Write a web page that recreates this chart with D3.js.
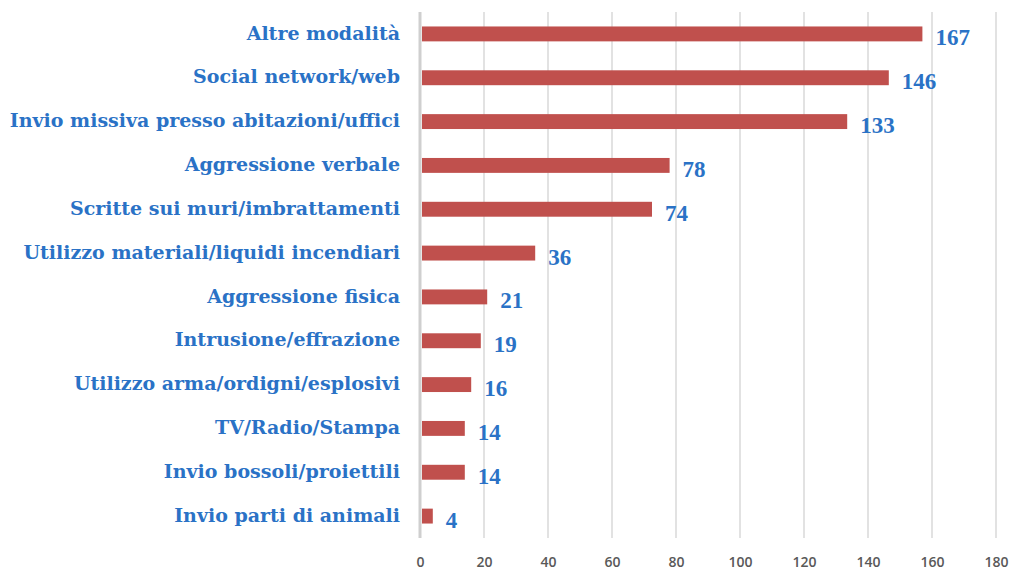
<!DOCTYPE html>
<html>
<head>
<meta charset="utf-8">
<script src="https://cdn.jsdelivr.net/npm/d3@7"></script>
<style>
  body { margin: 0; background: #fff; }
  .cat { font-family: "DejaVu Serif", serif; font-weight: bold; fill: #2a72c6; }
  .val { font-family: "Liberation Serif", serif; font-weight: bold; fill: #2a72c6; }
  .tick text { font-family: "Open Sans", sans-serif; fill: #595959; }
</style>
</head>
<body>
<div id="chart"></div>
<script>
// data
var categories = [
  "Altre modalità",
  "Social network/web",
  "Invio missiva presso abitazioni/uffici",
  "Aggressione verbale",
  "Scritte sui muri/imbrattamenti",
  "Utilizzo materiali/liquidi incendiari",
  "Aggressione fisica",
  "Intrusione/effrazione",
  "Utilizzo arma/ordigni/esplosivi",
  "TV/Radio/Stampa",
  "Invio bossoli/proiettili",
  "Invio parti di animali"
];
// bar lengths as drawn
var values = [157, 146.5, 133.5, 78, 72.5, 36, 21, 19, 16, 14, 14, 4];
// data labels as printed
var valueLabels = ["167", "146", "133", "78", "74", "36", "21", "19", "16", "14", "14", "4"];
var xTicks = [0, 20, 40, 60, 80, 100, 120, 140, 160, 180];

var svgWidth = 1017;
var svgHeight = 572;

var margin = { top: 12, right: 21, bottom: 34, left: 420 };
var width = svgWidth - margin.left - margin.right;
var height = svgHeight - margin.top - margin.bottom;

var svg = d3.select("#chart")
  .append("svg")
  .attr("width", svgWidth)
  .attr("height", svgHeight);

var chartGroup = svg.append("g")
  .attr("transform", `translate(${margin.left}, ${margin.top})`);

var xScale = d3.scaleLinear()
  .domain([0, 180])
  .range([0, width]);

var yScale = d3.scaleBand()
  .domain(categories)
  .range([0, height])
  .paddingInner(0.66)
  .paddingOuter(0.33);

// vertical gridlines
chartGroup.selectAll(".grid")
  .data(xTicks.slice(1))
  .enter()
  .append("line")
  .attr("class", "grid")
  .attr("x1", d => xScale(d))
  .attr("x2", d => xScale(d))
  .attr("y1", 0)
  .attr("y2", height)
  .attr("stroke", "#d9d9d9")
  .attr("stroke-width", 1.5);

// bottom axis, labels only
var bottomAxis = d3.axisBottom(xScale)
  .tickValues(xTicks)
  .tickSize(0)
  .tickPadding(19);

var xAxis = chartGroup.append("g")
  .attr("transform", `translate(0, ${height})`)
  .call(bottomAxis);
xAxis.select(".domain").remove();
xAxis.selectAll("text").attr("font-size", "14px").attr("font-weight", "600");

// bars
chartGroup.selectAll(".bar")
  .data(values)
  .enter()
  .append("rect")
  .attr("class", "bar")
  .attr("x", xScale(0) + 2)
  .attr("y", (d, i) => yScale(categories[i]))
  .attr("width", d => xScale(d) - xScale(0) - 2)
  .attr("height", yScale.bandwidth())
  .attr("fill", "#c0504d");

// category axis line
chartGroup.append("line")
  .attr("x1", xScale(0))
  .attr("x2", xScale(0))
  .attr("y1", 0)
  .attr("y2", height)
  .attr("stroke", "#cfcfcf")
  .attr("stroke-width", 3);

// category labels
chartGroup.selectAll(".cat")
  .data(categories)
  .enter()
  .append("text")
  .attr("class", "cat")
  .attr("x", -20)
  .attr("y", d => yScale(d) + yScale.bandwidth() / 2)
  .attr("dy", "0.3em")
  .attr("text-anchor", "end")
  .attr("font-size", "19px")
  .text(d => d);

// value labels
chartGroup.selectAll(".val")
  .data(values)
  .enter()
  .append("text")
  .attr("class", "val")
  .attr("x", d => xScale(d) + 13)
  .attr("y", (d, i) => yScale(categories[i]) + yScale.bandwidth() / 2)
  .attr("dy", "0.5em")
  .attr("font-size", "23px")
  .text((d, i) => valueLabels[i]);
</script>
</body>
</html>
